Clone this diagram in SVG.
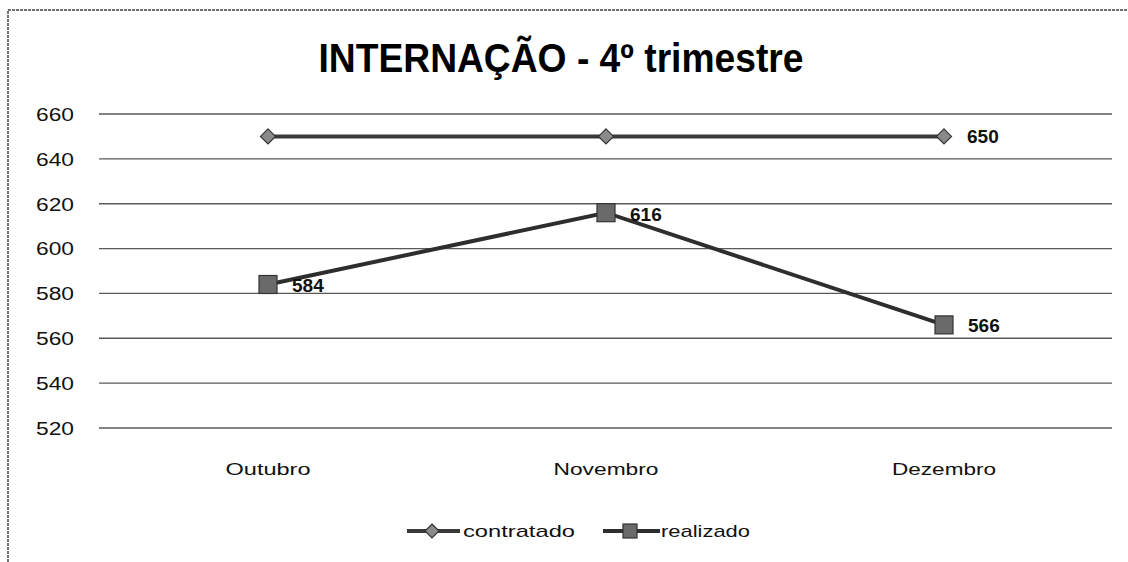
<svg xmlns="http://www.w3.org/2000/svg" width="1128" height="562" viewBox="0 0 1128 562">
<defs>
<style>
.grid{stroke:#5a5a5a;stroke-width:1.4;fill:none}
.ax{font-family:"Liberation Sans",Arial,sans-serif;font-size:18px;fill:#111}
.cat{font-family:"Liberation Sans",Arial,sans-serif;font-size:17px;fill:#111}
.val{font-family:"Liberation Sans",Arial,sans-serif;font-size:19px;font-weight:bold;fill:#111}
.ttl{font-family:"Liberation Sans",Arial,sans-serif;font-size:40px;font-weight:bold;fill:#000}
.s1{stroke:#3a3a3a;stroke-width:4;fill:none}
.s2{stroke:#2e2e2e;stroke-width:4;fill:none}
.dia{fill:#8a8a8a;stroke:#333;stroke-width:1.2}
.sq{fill:#6a6a6a;stroke:#333;stroke-width:1.2}
</style>
<marker id="d" viewBox="-9 -9 18 18" markerWidth="18" markerHeight="18" markerUnits="userSpaceOnUse"><path d="M0,-7.5 L7.5,0 L0,7.5 L-7.5,0Z" class="dia"/></marker>
</defs>
<rect width="1128" height="562" fill="#fff"/>
<path d="M8,562 V10 H1128" stroke="#444" stroke-width="1.5" stroke-dasharray="3 1" fill="none"/>
<text class="ttl" x="561" y="72" text-anchor="middle" textLength="485" lengthAdjust="spacingAndGlyphs">INTERNAÇÃO - 4º trimestre</text>
<g id="grid">
<line class="grid" x1="99" y1="114" x2="1112" y2="114"/>
<line class="grid" x1="99" y1="158.9" x2="1112" y2="158.9"/>
<line class="grid" x1="99" y1="203.7" x2="1112" y2="203.7"/>
<line class="grid" x1="99" y1="248.6" x2="1112" y2="248.6"/>
<line class="grid" x1="99" y1="293.4" x2="1112" y2="293.4"/>
<line class="grid" x1="99" y1="338.3" x2="1112" y2="338.3" stroke="#111" stroke-width="1.8"/>
<line class="grid" x1="99" y1="383.1" x2="1112" y2="383.1"/>
<line class="grid" x1="99" y1="428" x2="1112" y2="428"/>
</g>
<g id="yaxis" text-anchor="end">
<text class="ax" x="74" y="121" textLength="38" lengthAdjust="spacingAndGlyphs">660</text>
<text class="ax" x="74" y="166" textLength="38" lengthAdjust="spacingAndGlyphs">640</text>
<text class="ax" x="74" y="211" textLength="38" lengthAdjust="spacingAndGlyphs">620</text>
<text class="ax" x="74" y="255" textLength="38" lengthAdjust="spacingAndGlyphs">600</text>
<text class="ax" x="74" y="300" textLength="38" lengthAdjust="spacingAndGlyphs">580</text>
<text class="ax" x="74" y="345" textLength="38" lengthAdjust="spacingAndGlyphs">560</text>
<text class="ax" x="74" y="390" textLength="38" lengthAdjust="spacingAndGlyphs">540</text>
<text class="ax" x="74" y="435" textLength="38" lengthAdjust="spacingAndGlyphs">520</text>
</g>
<g id="xaxis" text-anchor="middle">
<text class="cat" x="268" y="475" textLength="85" lengthAdjust="spacingAndGlyphs">Outubro</text>
<text class="cat" x="606" y="475" textLength="105" lengthAdjust="spacingAndGlyphs">Novembro</text>
<text class="cat" x="944" y="475" textLength="104" lengthAdjust="spacingAndGlyphs">Dezembro</text>
</g>
<g id="connectors">
<polyline id="contratado" class="s1" points="268,136.4 606,136.4 944,136.4" marker-start="url(#d)" marker-mid="url(#d)" marker-end="url(#d)"/>
<polyline id="realizado" class="s2" points="268,284.5 606,212.7 944,324.9"/>
</g>
<g id="markers">
<rect class="sq" x="259" y="275.5" width="18" height="18"/>
<rect class="sq" x="597" y="203.7" width="18" height="18"/>
<rect class="sq" x="935" y="315.9" width="18" height="18"/>
</g>
<g id="labels">
<text class="val" x="967" y="143">650</text>
<text class="val" x="292" y="292">584</text>
<text class="val" x="630" y="221">616</text>
<text class="val" x="968" y="332">566</text>
</g>
<g id="legend">
<line class="s1" x1="407" y1="531" x2="460" y2="531" stroke-width="3"/>
<path class="dia" d="M432,524 L439,531 L432,538 L425,531Z"/>
<text class="cat" x="463" y="537" textLength="112" lengthAdjust="spacingAndGlyphs">contratado</text>
<line class="s2" x1="603" y1="531" x2="660" y2="531" stroke-width="3"/>
<rect class="sq" x="623" y="524" width="14" height="14"/>
<text class="cat" x="661" y="537" textLength="89" lengthAdjust="spacingAndGlyphs">realizado</text>
</g>
</svg>
